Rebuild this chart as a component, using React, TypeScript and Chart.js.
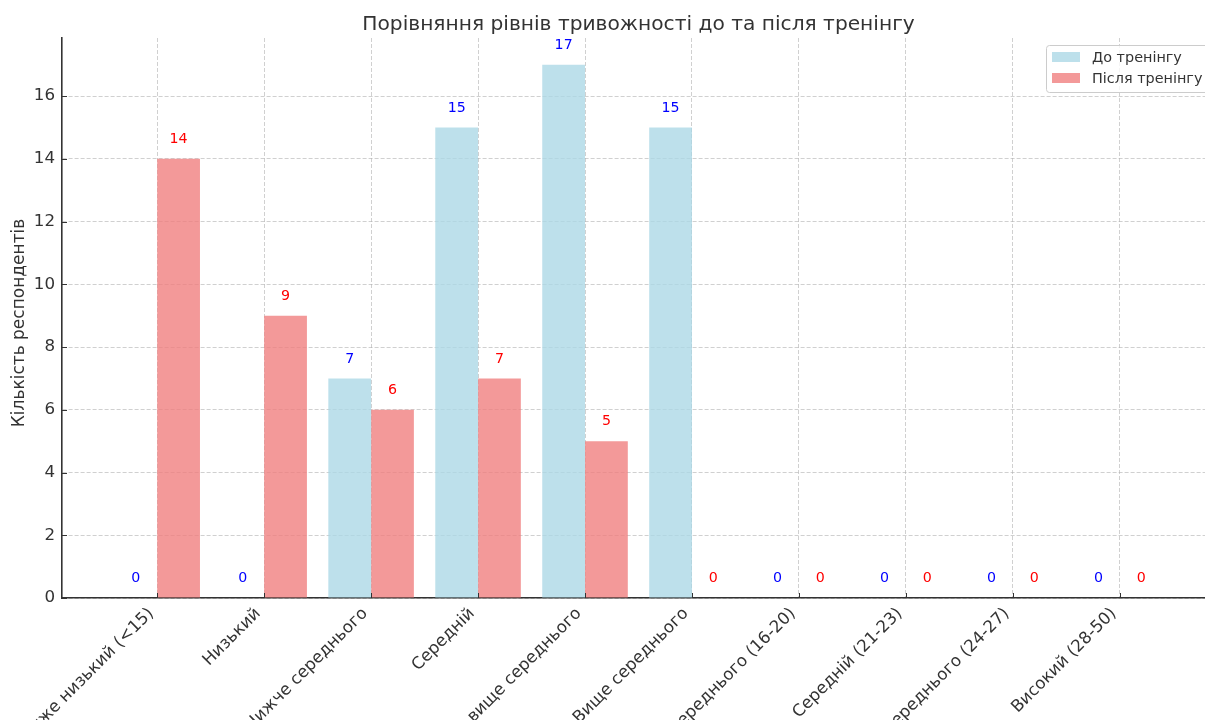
import { useEffect, useRef } from "react";
import { Chart, registerables } from "chart.js";

Chart.register(...registerables);

// Anxiety level categories (x axis)
const categories = [
  "Дуже низький (<15)",
  "Низький",
  "Нижче середнього",
  "Середній",
  "Трохи вище середнього",
  "Вище середнього",
  "Нижче середнього (16-20)",
  "Середній (21-23)",
  "Вище середнього (24-27)",
  "Високий (28-50)",
];

// Number of respondents per level
const beforeTraining = [0, 0, 7, 15, 17, 15, 0, 0, 0, 0];
const afterTraining = [14, 9, 6, 7, 5, 0, 0, 0, 0, 0];

const seriesNames = ["До тренінгу", "Після тренінгу"];
const yTickValues = [0, 2, 4, 6, 8, 10, 12, 14, 16];
const yMax = 17.85;
const chartTitle = "Порівняння рівнів тривожності до та після тренінгу";
const yAxisTitle = "Кількість респондентів";

const FONT = "'DejaVu Sans', sans-serif";
const TEXT = "#333333";
const BLUE_FILL = "rgba(173, 216, 230, 0.8)";
const RED_FILL = "rgba(240, 128, 128, 0.8)";
const LABEL_COLORS = ["blue", "red"];

const decorations = {
  id: "decorations",
  afterDatasetsDraw(chart: any) {
    const { ctx } = chart;
    const yScale = chart.scales.y;
    // value labels above each bar
    ctx.save();
    ctx.font = `14.2px ${FONT}`;
    ctx.textAlign = "center";
    ctx.textBaseline = "alphabetic";
    chart.data.datasets.forEach((ds: any, di: number) => {
      const meta = chart.getDatasetMeta(di);
      ctx.fillStyle = LABEL_COLORS[di];
      meta.data.forEach((el: any, i: number) => {
        const v = ds.data[i].y;
        ctx.fillText(String(v), el.x, yScale.getPixelForValue(v + 0.5));
      });
    });
    ctx.restore();
  },
  afterDraw(chart: any) {
    const { ctx, chartArea } = chart;
    const xScale = chart.scales.x;
    const yScale = chart.scales.y;
    ctx.save();
    // inward tick marks
    ctx.strokeStyle = TEXT;
    ctx.lineWidth = 1;
    ctx.beginPath();
    yTickValues.forEach((v) => {
      const y = Math.round(yScale.getPixelForValue(v)) + 0.5;
      ctx.moveTo(chartArea.left, y);
      ctx.lineTo(chartArea.left + 5, y);
    });
    categories.forEach((_, i) => {
      const x = Math.round(xScale.getPixelForValue(i)) + 0.5;
      ctx.moveTo(x, chartArea.bottom);
      ctx.lineTo(x, chartArea.bottom - 5);
    });
    ctx.stroke();

    // rotated category labels, right end anchored under each tick
    ctx.fillStyle = TEXT;
    ctx.font = `16.7px ${FONT}`;
    ctx.textAlign = "right";
    ctx.textBaseline = "middle";
    categories.forEach((label, i) => {
      const x = xScale.getPixelForValue(i);
      ctx.save();
      ctx.translate(x - 6, chartArea.bottom + 13);
      ctx.rotate(-Math.PI / 4);
      ctx.fillText(label, 0, 0);
      ctx.restore();
    });

    // title
    ctx.font = `20.2px ${FONT}`;
    ctx.textAlign = "center";
    ctx.textBaseline = "alphabetic";
    ctx.fillText(chartTitle, (chartArea.left + chartArea.right) / 2, 30);

    // y axis title
    ctx.save();
    ctx.translate(20, (chartArea.top + chartArea.bottom) / 2 + 5);
    ctx.rotate(-Math.PI / 2);
    ctx.font = `17px ${FONT}`;
    ctx.textBaseline = "middle";
    ctx.fillText(yAxisTitle, 0, 0);
    ctx.restore();

    // legend
    const lx = 1046.5;
    const ly = 45.5;
    ctx.beginPath();
    ctx.roundRect(lx, ly, 165, 47, 3);
    ctx.fillStyle = "rgba(255,255,255,0.8)";
    ctx.fill();
    ctx.strokeStyle = "#cccccc";
    ctx.lineWidth = 1;
    ctx.stroke();
    const fills = [BLUE_FILL, RED_FILL];
    ctx.font = `14.4px ${FONT}`;
    ctx.textAlign = "left";
    ctx.textBaseline = "middle";
    seriesNames.forEach((name, i) => {
      const cy = 57 + i * 21;
      ctx.fillStyle = fills[i];
      ctx.fillRect(1052, cy - 5, 28, 10);
      ctx.fillStyle = TEXT;
      ctx.fillText(name, 1092, cy + 1);
    });
    ctx.restore();
  },
};

export default function App() {
  const canvasRef = useRef<HTMLCanvasElement | null>(null);

  useEffect(() => {
    if (!canvasRef.current) return;
    const chart = new Chart(canvasRef.current, {
      type: "bar",
      data: {
        datasets: [
          {
            label: seriesNames[0],
            data: beforeTraining.map((v, i) => ({ x: i, y: v })),
            backgroundColor: BLUE_FILL,
            borderWidth: 0,
          },
          {
            label: seriesNames[1],
            data: afterTraining.map((v, i) => ({ x: i, y: v })),
            backgroundColor: RED_FILL,
            borderWidth: 0,
          },
        ],
      },
      options: {
        animation: false,
        responsive: false,
        devicePixelRatio: 1,
        categoryPercentage: 0.8,
        barPercentage: 1.0,
        layout: { padding: { top: 38, right: 5, left: 0, bottom: 0 } },
        plugins: {
          legend: { display: false },
          title: { display: false },
          tooltip: { enabled: false },
        },
        scales: {
          x: {
            type: "linear",
            min: -0.89,
            max: 9.89,
            offset: false,
            afterBuildTicks: (scale: any) => {
              scale.ticks = categories.map((_, i) => ({ value: i }));
            },
            afterFit: (scale: any) => {
              scale.height = 122;
            },
            ticks: { display: false },
            grid: {
              offset: false,
              color: "rgba(176,176,176,0.6)",
              lineWidth: 1,
              drawTicks: false,
            },
            border: { color: TEXT, width: 1.6, dash: [4, 2] },
          },
          y: {
            min: 0,
            max: yMax,
            afterBuildTicks: (scale: any) => {
              scale.ticks = yTickValues.map((v) => ({ value: v }));
            },
            afterFit: (scale: any) => {
              scale.width = 62;
            },
            ticks: {
              padding: 7,
              color: TEXT,
              font: { family: FONT, size: 16.7 },
            },
            grid: {
              color: "rgba(176,176,176,0.6)",
              lineWidth: 1,
              drawTicks: false,
            },
            border: { color: TEXT, width: 1.6, dash: [4, 2] },
          },
        },
      } as any,
      plugins: [decorations],
    });
    return () => chart.destroy();
  }, []);

  return (
    <div
      style={{
        position: "fixed",
        left: 0,
        top: 0,
        width: 1205,
        height: 720,
        overflow: "hidden",
        background: "#ffffff",
      }}
    >
      <canvas
        ref={canvasRef}
        width={1220}
        height={720}
        style={{ display: "block", width: 1220, height: 720 }}
      />
    </div>
  );
}
